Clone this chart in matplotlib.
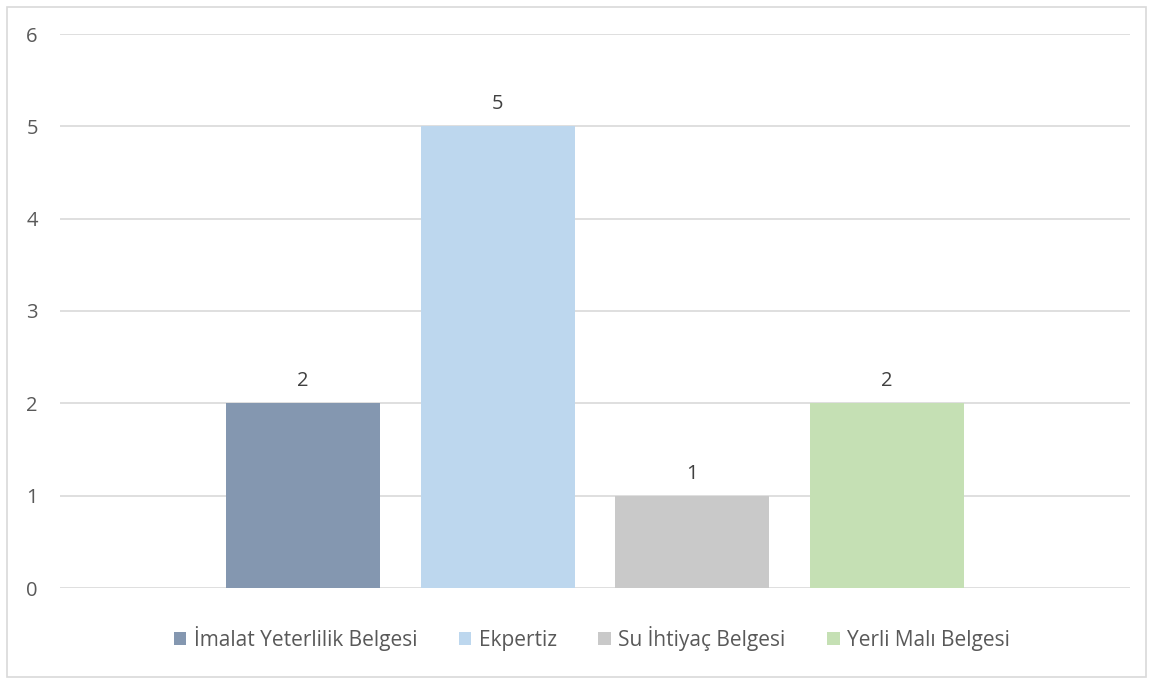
import matplotlib
matplotlib.use('Agg')
import matplotlib.pyplot as plt
from matplotlib.patches import Rectangle

plt.rcParams['font.family'] = ['Open Sans', 'DejaVu Sans']

categories = ['İmalat Yeterlilik Belgesi', 'Ekpertiz', 'Su İhtiyaç Belgesi', 'Yerli Malı Belgesi']
values = [2, 5, 1, 2]
colors = ['#8497B0', '#BDD7EE', '#C9C9C9', '#C5E0B4']
yticks = [0, 1, 2, 3, 4, 5, 6]

text_color = '#595959'
grid_color = '#D9D9D9'

fig = plt.figure(figsize=(11.52, 6.81), dpi=100)
ax = fig.add_axes([60 / 1152, 93 / 681, 1070 / 1152, 554 / 681])

for i, (cat, val, col) in enumerate(zip(categories, values, colors)):
    ax.bar(i, val, width=0.79, color=col, label=cat, zorder=2)
    ax.text(i, val + 0.13, str(val), ha='center', va='bottom', fontsize=14.5, color='#404040')

ax.set_xlim(-1.25, 4.25)
ax.set_ylim(0, 6)
ax.set_yticks(yticks)
ax.set_xticks([])
ax.yaxis.grid(True, color=grid_color, linewidth=1.2, zorder=0)
ax.tick_params(axis='y', length=0, pad=16, labelsize=14.5, labelcolor=text_color)
for s in ax.spines.values():
    s.set_visible(False)

leg = ax.legend(loc='upper center', bbox_to_anchor=(0.497, -0.035), ncol=4, frameon=False,
                fontsize=15, handlelength=0.6, handleheight=0.6, handletextpad=0.35,
                columnspacing=2.0)
for t in leg.get_texts():
    t.set_color(text_color)

fig.patches.append(Rectangle((6.5 / 1152, 4.5 / 681), 1139 / 1152, 670 / 681,
                             transform=fig.transFigure, fill=False,
                             edgecolor=grid_color, linewidth=1.2))

plt.savefig('out.png', dpi=100)
